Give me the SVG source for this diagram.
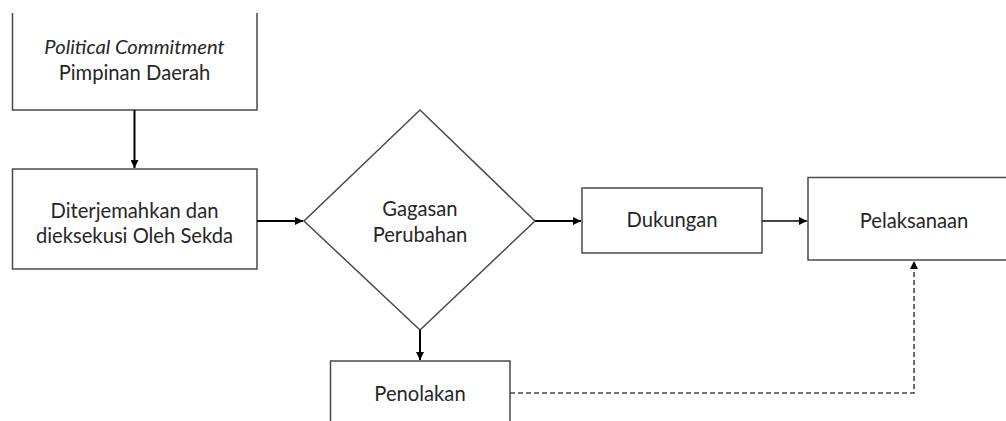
<svg xmlns="http://www.w3.org/2000/svg" width="1006" height="421" viewBox="0 0 1006 421">
  <style>
    .box { fill: #ffffff; stroke: #4a4a4a; stroke-width: 1.5; }
    .lbl { font-family: Lato, "Liberation Sans", sans-serif; font-size: 20.2px; fill: #262626; text-anchor: middle; }
    .conn { fill: none; stroke: #000000; stroke-width: 2; }
    .conn2 { fill: none; stroke: #444444; stroke-width: 2; }
    .dash { fill: none; stroke: #444444; stroke-width: 1.5; stroke-dasharray: 5 3; }
  </style>
  <defs>
    <marker id="ah" viewBox="0 0 10 10" refX="10" refY="5" markerWidth="8" markerHeight="8" markerUnits="userSpaceOnUse" orient="auto">
      <path d="M0,0 L10,5 L0,10 Z" fill="#000000"/>
    </marker>
  </defs>
  <rect width="1006" height="421" fill="#ffffff"/>

  <g id="node-political">
    <path class="box" d="M12.5,13 V110 H257 V13"/>
    <text class="lbl" x="134.5" y="54" font-style="italic">Political Commitment</text>
    <text class="lbl" x="134.5" y="80">Pimpinan Daerah</text>
  </g>

  <g id="node-diterjemahkan">
    <rect class="box" x="12.5" y="169" width="244.5" height="100"/>
    <text class="lbl" x="134.5" y="218">Diterjemahkan dan</text>
    <text class="lbl" x="134.5" y="243">dieksekusi Oleh Sekda</text>
  </g>

  <g id="node-gagasan">
    <polygon class="box" points="420,110 535,221 420,330 304,221"/>
    <text class="lbl" x="420" y="216">Gagasan</text>
    <text class="lbl" x="420" y="242">Perubahan</text>
  </g>

  <g id="node-dukungan">
    <rect class="box" x="582" y="188" width="180" height="65"/>
    <text class="lbl" x="672" y="227">Dukungan</text>
  </g>

  <g id="node-pelaksanaan">
    <rect class="box" x="808" y="177.5" width="220" height="82.5"/>
    <text class="lbl" x="914" y="228">Pelaksanaan</text>
  </g>

  <g id="node-penolakan">
    <rect class="box" x="330.5" y="361" width="179.5" height="80"/>
    <text class="lbl" x="420" y="401">Penolakan</text>
  </g>

  <g id="connectors">
    <line class="conn" x1="134.5" y1="110" x2="134.5" y2="168" marker-end="url(#ah)"/>
    <line class="conn" x1="257" y1="221" x2="303" y2="221" marker-end="url(#ah)"/>
    <line class="conn" x1="535" y1="221" x2="581" y2="221" marker-end="url(#ah)"/>
    <line class="conn2" x1="762" y1="221" x2="807" y2="221" marker-end="url(#ah)"/>
    <line class="conn" x1="420" y1="330" x2="420" y2="360" marker-end="url(#ah)"/>
    <path class="dash" d="M510,393 H914 V261" marker-end="url(#ah)"/>
  </g>
</svg>
